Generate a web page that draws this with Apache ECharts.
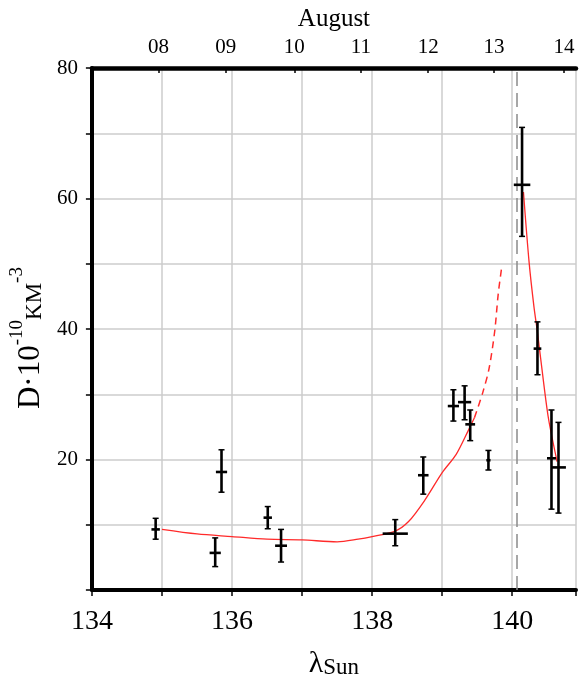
<!DOCTYPE html>
<html lang="en">
<head>
<meta charset="utf-8">
<title>Meteor flux density</title>
<style>
* { margin: 0; padding: 0; }
#chart-container { position: relative; width: 579px; height: 684px; overflow: hidden; background: #fff; }
</style>
</head>
<body>
<div id="chart-container"></div>
<script src="https://cdn.jsdelivr.net/npm/echarts@6/dist/echarts.min.js"></script>
<script>
// observations: solar longitude, density, lower/upper error, half width in lambda
let lam   = [134.91, 135.76, 135.85, 136.51, 136.70, 138.33, 138.73, 139.16, 139.32, 139.40, 139.66, 140.14, 140.36, 140.56, 140.66];
let dens  = [9.3,    5.7,    18.1,   11.1,   6.8,    8.65,   17.6,   28.2,   28.8,   25.4,   19.9,   62.1,   37.0,   20.2,   18.8];
let low   = [7.8,    3.6,    15.0,   9.4,    4.3,    6.8,    14.7,   25.9,   26.1,   22.9,   18.4,   54.2,   33.0,   12.4,   11.8];
let high  = [11.0,   8.0,    21.5,   12.8,   9.3,    10.8,   20.4,   30.7,   31.3,   27.6,   21.4,   70.9,   41.1,   27.6,   25.7];
let lamErr = [0.06,  0.08,   0.08,   0.06,   0.085,  0.18,   0.075,  0.08,   0.094,  0.07,   0.03,   0.118,  0.055,  0.064,  0.106];

// fitted model curve
let fitRiseX = [135.0, 135.5, 136.0, 136.5, 137.0, 137.5, 137.8, 138.0, 138.33, 138.52, 138.75, 139.0, 139.2, 139.37, 139.46];
let fitRiseY = [9.3,   8.6,   8.2,   7.8,   7.7,   7.4,   7.8,   8.2,   9.05,   10.5,   13.75,  18.0,  20.8,  24.4,   26.4];
let fitDashX = [139.46, 139.58, 139.67, 139.75, 139.80, 139.85];
let fitDashY = [26.4,   30.3,   34.0,   39.7,   45.4,   49.5];
let fitFallX = [140.16, 140.24, 140.31, 140.36, 140.45, 140.52, 140.64];
let fitFallY = [61.0,   50.3,   43.4,   39.5,   31.6,   26.1,   19.7];

let peakLam = 140.065;

// top axis: August dates
let dayLabels = ['08', '09', '10', '11', '12', '13', '14'];
let dayLam    = [134.95, 135.91, 136.89, 137.84, 138.80, 139.74, 140.74];

let xMin = 134, xMax = 140.91;

function zip(a, b) { return a.map((v, i) => [v, b[i]]); }

var dom = document.getElementById('chart-container');
var myChart = echarts.init(dom, null, { renderer: 'canvas' });

var serif = 'Liberation Serif';
var redLine = { color: '#ff2a2a', width: 1.3 };

var option = {
  animation: false,
  textStyle: { fontFamily: serif, color: '#000' },
  grid: { left: 91, right: 0, top: 68, bottom: 77 },
  xAxis: [
    {
      type: 'value', min: xMin, max: xMax, interval: 1, position: 'bottom',
      name: '{l|λ}{s|Sun}', nameLocation: 'middle', nameGap: 38,
      nameTextStyle: {
        rich: {
          l: { fontFamily: serif, fontSize: 30, lineHeight: 30, verticalAlign: 'top', color: '#000' },
          s: { fontFamily: serif, fontSize: 23, lineHeight: 20, verticalAlign: 'bottom', padding: [15, 0, 0, 0], color: '#000' }
        }
      },
      axisLine: { show: true, onZero: false, lineStyle: { color: '#000', width: 4 } },
      axisTick: { show: true, inside: false, length: 6, lineStyle: { color: '#000', width: 1.5 } },
      axisLabel: {
        fontFamily: serif, fontSize: 28, color: '#000', margin: 18,
        formatter: v => (Math.round(v) % 2 === 0 ? String(v) : '')
      },
      splitLine: { show: true, lineStyle: { color: '#cccccc', width: 1.5 } }
    },
    {
      type: 'value', min: xMin, max: xMax, position: 'top',
      name: 'August', nameLocation: 'middle', nameGap: 36,
      nameTextStyle: { fontFamily: serif, fontSize: 25, color: '#000' },
      axisLine: { show: true, onZero: false, lineStyle: { color: '#000', width: 4.5 } },
      axisTick: { show: true, inside: true, length: 5, customValues: dayLam, lineStyle: { color: '#000', width: 1.5 } },
      axisLabel: {
        fontFamily: serif, fontSize: 21, color: '#000', margin: 10,
        customValues: dayLam,
        formatter: v => { let i = dayLam.indexOf(v); return i >= 0 ? dayLabels[i] : ''; }
      },
      splitLine: { show: false }
    }
  ],
  yAxis: {
    type: 'value', min: 0, max: 80, interval: 10,
    name: '{a|D·10}{b|-10}{c|KM}{d|-3}', nameLocation: 'middle', nameGap: 35,
    nameTextStyle: {
      padding: [0, 18, 0, 0],
      rich: {
        a: { fontFamily: serif, fontSize: 31, lineHeight: 38, verticalAlign: 'bottom', color: '#000' },
        b: { fontFamily: serif, fontSize: 19, lineHeight: 11, verticalAlign: 'top', color: '#000' },
        c: { fontFamily: serif, fontSize: 23, lineHeight: 28, verticalAlign: 'bottom', color: '#000' },
        d: { fontFamily: serif, fontSize: 19, lineHeight: 16, verticalAlign: 'top', color: '#000' }
      }
    },
    axisLine: { show: true, lineStyle: { color: '#000', width: 4 } },
    axisTick: { show: true, inside: false, length: 6, lineStyle: { color: '#000', width: 1.5 } },
    axisLabel: {
      fontFamily: serif, fontSize: 21, color: '#000', margin: 14,
      formatter: v => (v > 0 && v % 20 === 0 ? String(v) : '')
    },
    splitLine: { show: true, lineStyle: { color: '#cccccc', width: 1.5 } }
  },
  series: [
    {
      type: 'line', xAxisIndex: 0, data: zip(fitRiseX, fitRiseY),
      symbol: 'none', smooth: 0.3, lineStyle: redLine, z: 2,
      markLine: {
        silent: true, symbol: ['none', 'none'], label: { show: false },
        lineStyle: { color: '#8a8a8a', width: 1.5, type: [14, 7] },
        data: [{ xAxis: peakLam }]
      }
    },
    {
      type: 'line', xAxisIndex: 0, data: zip(fitDashX, fitDashY),
      symbol: 'none', smooth: 0.3, z: 2,
      lineStyle: { color: redLine.color, width: 1.5, type: [7, 5] }
    },
    {
      type: 'line', xAxisIndex: 0, data: zip(fitFallX, fitFallY),
      symbol: 'none', smooth: 0.3, lineStyle: redLine, z: 2
    },
    {
      type: 'custom', xAxisIndex: 0, z: 5,
      data: lam.map((v, i) => [v, dens[i], low[i], high[i], lamErr[i]]),
      renderItem: function (params, api) {
        let x = api.value(0), y = api.value(1);
        let pLo = api.coord([x, api.value(2)]);
        let pHi = api.coord([x, api.value(3)]);
        let pL = api.coord([x - api.value(4), y]);
        let pR = api.coord([x + api.value(4), y]);
        let st = { stroke: '#000', lineWidth: 2.6 };
        let cap = 3;
        return {
          type: 'group',
          children: [
            { type: 'line', shape: { x1: pLo[0], y1: pLo[1], x2: pHi[0], y2: pHi[1] }, style: st },
            { type: 'line', shape: { x1: pLo[0] - cap, y1: pLo[1], x2: pLo[0] + cap, y2: pLo[1] }, style: { stroke: '#000', lineWidth: 1.5 } },
            { type: 'line', shape: { x1: pHi[0] - cap, y1: pHi[1], x2: pHi[0] + cap, y2: pHi[1] }, style: { stroke: '#000', lineWidth: 1.5 } },
            { type: 'line', shape: { x1: pL[0], y1: pL[1], x2: pR[0], y2: pR[1] }, style: st }
          ]
        };
      }
    }
  ]
};

myChart.setOption(option);
window.addEventListener('resize', myChart.resize);
</script>
</body>
</html>
